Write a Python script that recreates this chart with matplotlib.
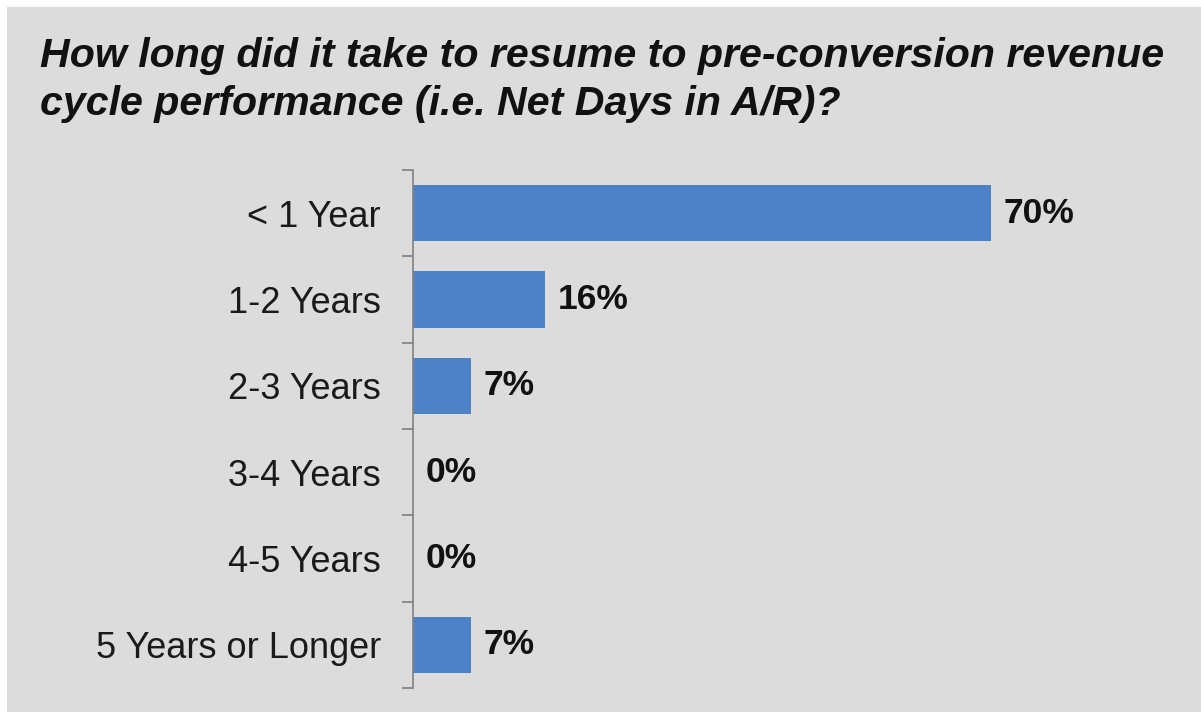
import matplotlib.pyplot as plt
from matplotlib.patches import Rectangle

categorias = ['< 1 Year', '1-2 Years', '2-3 Years', '3-4 Years', '4-5 Years', '5 Years or Longer']
porcentajes = [70, 16, 7, 0, 0, 7]
titulo = 'How long did it take to resume to pre-conversion revenue\ncycle performance (i.e. Net Days in A/R)?'

fondo = '#dcdcdc'
azul = '#4f81c7'
gris = '#808080'

fig = plt.figure(figsize=(12.01, 7.12), dpi=100)
fig.patch.set_facecolor('white')
# panel gris con un borde blanco fino arriba y a la izquierda
fig.patches.append(Rectangle((7 / 1201, 0), 1, 1 - 7 / 712, transform=fig.transFigure,
                             facecolor=fondo, edgecolor='none', zorder=-5))

W, H = 1201, 712
ax = fig.add_axes([413 / W, 1 - 688 / H, (1190 - 413) / W, (688 - 170) / H])
ax.set_facecolor('none')
ax.set_zorder(2)

y = list(range(len(categorias)))
ax.barh(y, porcentajes, height=0.65, color=azul, zorder=2)
ax.set_ylim(len(categorias) - 0.5, -0.5)
ax.set_xlim(0, 70 * (1190 - 413) / (991 - 413))

for yi, v in zip(y, porcentajes):
    ax.annotate(f'{v}%', (v, yi), xytext=(9, 0), textcoords='offset points',
                va='center', ha='left', fontsize=25.5, fontweight='bold',
                family='Liberation Sans', color='#111111')

for s in ['top', 'right', 'bottom']:
    ax.spines[s].set_visible(False)
ax.spines['left'].set_color(gris)
ax.spines['left'].set_linewidth(1.2)

ax.set_xticks([])
# marcas en los límites entre categorías
ax.set_yticks([i - 0.5 for i in range(len(categorias) + 1)], minor=True)
ax.set_yticks(y)
ax.set_yticklabels(categorias, fontsize=26, family='Liberation Sans', color='#1a1a1a')
ax.tick_params(axis='y', which='major', length=0, pad=23)
ax.tick_params(axis='y', which='minor', length=8, width=1.2, color=gris)

fig.text(40 / W, 1 - 37 / H, titulo, ha='left', va='top', fontsize=29.6,
         fontweight='bold', fontstyle='italic', family='Liberation Sans',
         color='#111111', linespacing=1.33)

fig.savefig('out.png', dpi=100, facecolor=fig.get_facecolor())
